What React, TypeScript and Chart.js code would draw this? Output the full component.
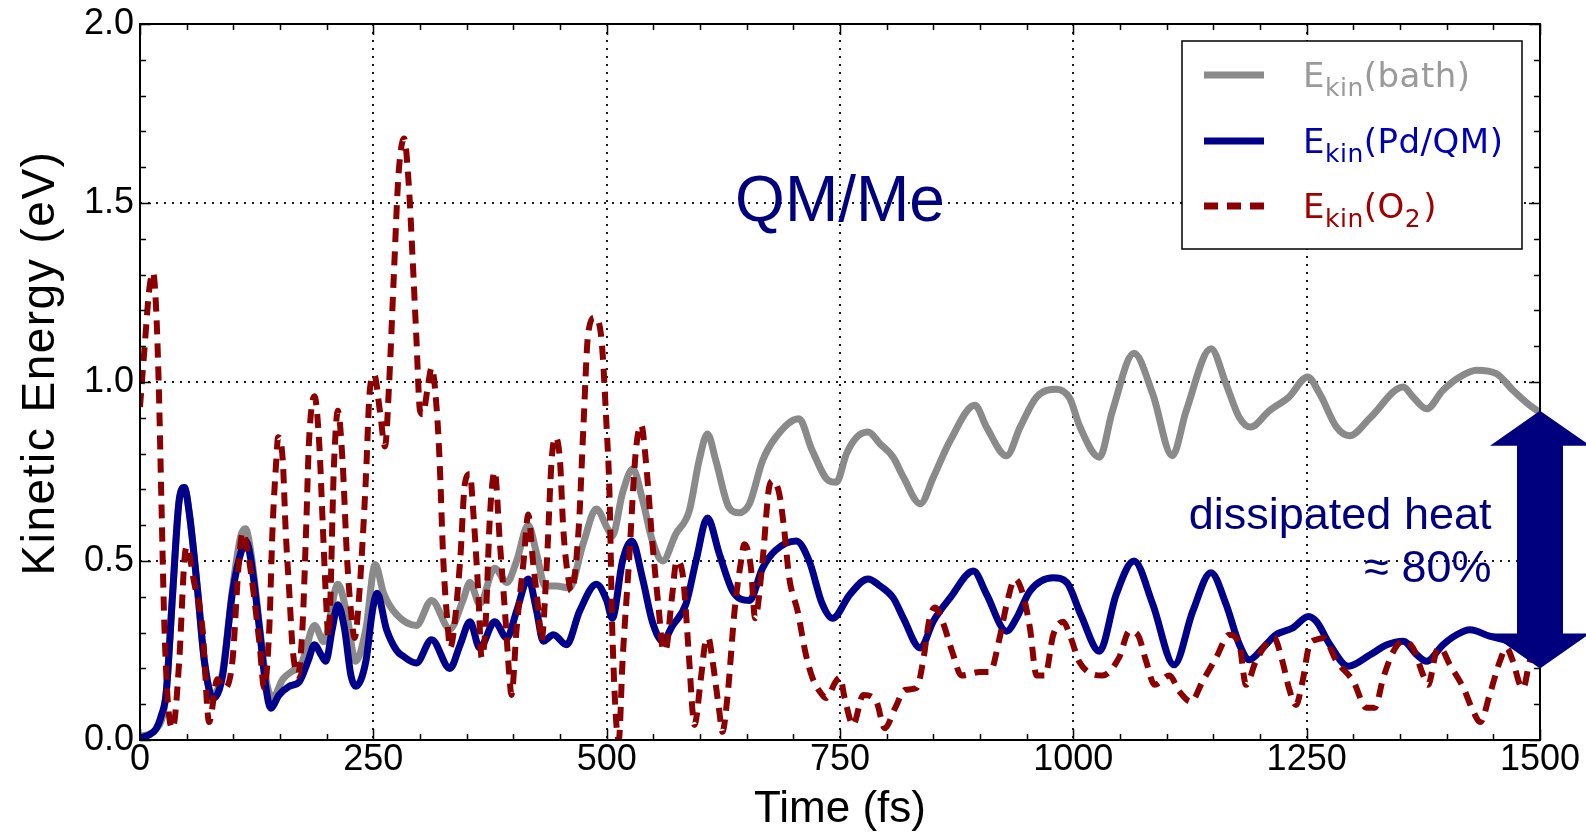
import React, { useEffect, useRef } from 'react';
import { Chart, registerables } from 'chart.js';

Chart.register(...registerables);

// ---- data (time in fs, kinetic energy in eV) ----
const bathT = [0, 17, 28, 35, 42, 47.5, 53, 62, 69, 78, 81, 88.5, 99, 108, 113, 119, 128, 135, 142, 153, 167, 174, 187, 197, 212, 221, 231, 242, 252, 261, 275, 296, 312.5, 332, 346, 353.5, 364, 380, 393, 403.5, 416, 425, 434, 446, 460, 475, 489, 501, 506, 517, 528, 538.5, 549, 560, 574, 588.5, 599, 608, 617, 631, 642, 653, 667, 681, 706, 720, 738, 746, 757, 768, 780, 793, 807, 818, 836, 850, 868, 894.6, 907, 928.5, 943, 960.6, 982, 996, 1007, 1028, 1042, 1065, 1085, 1106, 1121, 1147.5, 1163.5, 1178, 1190, 1210, 1231, 1251, 1264, 1282, 1296, 1318, 1353.5, 1364, 1378.5, 1396, 1414, 1432, 1453.5, 1471, 1489, 1500];
const bathE = [0.01, 0.03, 0.13, 0.41, 0.67, 0.705, 0.63, 0.41, 0.22, 0.125, 0.13, 0.19, 0.42, 0.57, 0.59, 0.52, 0.32, 0.17, 0.117, 0.17, 0.2, 0.22, 0.32, 0.275, 0.435, 0.36, 0.22, 0.31, 0.49, 0.41, 0.35, 0.32, 0.39, 0.31, 0.39, 0.44, 0.38, 0.48, 0.44, 0.5, 0.6, 0.52, 0.43, 0.43, 0.425, 0.55, 0.645, 0.59, 0.57, 0.69, 0.757, 0.67, 0.556, 0.5, 0.575, 0.64, 0.78, 0.855, 0.78, 0.65, 0.635, 0.66, 0.78, 0.845, 0.897, 0.81, 0.724, 0.72, 0.8, 0.846, 0.86, 0.827, 0.79, 0.734, 0.66, 0.734, 0.836, 0.935, 0.874, 0.794, 0.874, 0.958, 0.98, 0.955, 0.875, 0.79, 0.92, 1.08, 0.967, 0.794, 0.92, 1.093, 0.995, 0.9, 0.874, 0.92, 0.958, 1.014, 0.967, 0.874, 0.85, 0.9, 0.986, 0.958, 0.925, 0.977, 1.014, 1.033, 1.023, 0.977, 0.935, 0.915];

const pdT = [0, 10, 17, 23, 28, 35, 42, 47.5, 53, 62, 69, 78, 81, 88.5, 99, 110, 113.5, 119, 128, 135, 140, 149, 160, 171, 180, 187, 194, 199, 206, 212, 219, 226, 231, 242, 249, 254, 264, 275, 282, 296, 312.5, 332, 343, 353.5, 364, 380, 393, 403.5, 416, 425, 432, 443, 457, 471, 489, 500, 506, 517, 527, 538.5, 549, 560, 570.7, 585, 595.7, 608, 620.7, 635, 653, 667, 681, 703, 717, 731, 742, 760.7, 780, 793, 807, 818, 836, 850, 868, 893, 907, 928.5, 939, 953.5, 978.5, 993, 1008, 1028, 1046, 1065, 1085, 1108, 1128, 1147.5, 1163.5, 1178, 1188.5, 1203, 1217, 1235, 1252, 1260.7, 1275, 1294.6, 1318, 1336, 1353.5, 1368, 1378.5, 1396, 1410.7, 1425, 1446, 1468, 1485, 1500];
const pdE = [0.005, 0.015, 0.03, 0.07, 0.13, 0.41, 0.67, 0.705, 0.63, 0.41, 0.22, 0.117, 0.12, 0.18, 0.41, 0.54, 0.556, 0.5, 0.31, 0.145, 0.089, 0.126, 0.15, 0.164, 0.22, 0.266, 0.238, 0.22, 0.31, 0.378, 0.313, 0.18, 0.15, 0.22, 0.36, 0.41, 0.31, 0.25, 0.234, 0.215, 0.28, 0.2, 0.266, 0.33, 0.257, 0.33, 0.285, 0.36, 0.45, 0.36, 0.276, 0.294, 0.266, 0.36, 0.435, 0.39, 0.34, 0.5, 0.556, 0.45, 0.33, 0.276, 0.32, 0.38, 0.5, 0.62, 0.52, 0.416, 0.39, 0.48, 0.53, 0.556, 0.5, 0.38, 0.34, 0.407, 0.45, 0.43, 0.397, 0.34, 0.257, 0.332, 0.397, 0.472, 0.407, 0.304, 0.34, 0.416, 0.453, 0.44, 0.35, 0.248, 0.407, 0.5, 0.38, 0.21, 0.36, 0.467, 0.38, 0.266, 0.224, 0.257, 0.294, 0.313, 0.345, 0.33, 0.266, 0.206, 0.238, 0.266, 0.276, 0.238, 0.22, 0.266, 0.294, 0.308, 0.29, 0.276, 0.26, 0.22];

const o2T = [0, 5, 10, 14, 17, 20, 23, 26, 30, 35, 42, 47.5, 50, 58, 67, 74, 83, 90, 99, 106, 110, 117, 128, 133, 138.5, 142, 146, 148, 153, 156, 160, 163.5, 169, 174, 178, 181, 187, 192, 196, 199, 202, 208, 212, 217, 222, 228, 230, 235, 242, 246, 251, 257, 262.5, 267, 272, 277, 283, 288, 292, 296, 300, 303, 308, 312.5, 318, 321, 325, 330, 332, 343, 348, 353.5, 357, 362.5, 366, 370, 375, 380, 385.6, 391, 396, 398, 403.5, 411, 416, 421, 427, 430, 436, 441, 445, 450, 453.5, 459, 462, 470, 475, 480, 487, 494, 500, 503, 506, 513, 517, 524, 531, 537, 542, 549, 556, 560, 563, 570, 575, 581, 588.5, 592, 594, 601, 606, 609, 613.5, 620.7, 624, 629.6, 637, 644, 647.5, 654.6, 659, 667, 674, 678, 685, 690, 695.6, 704.6, 713.5, 720.6, 731, 735, 745.6, 750, 755, 764, 775, 789, 798, 809, 819.6, 832, 839, 846, 852, 860, 871, 880, 900, 910.7, 921, 928.5, 937.5, 946, 953.5, 960.6, 969.6, 978.5, 989, 998, 1006, 1031, 1049, 1060, 1069, 1078, 1087, 1103, 1113.5, 1126, 1138.5, 1153, 1167, 1178, 1185, 1195.6, 1215, 1224, 1231, 1238.5, 1245.6, 1253, 1260, 1268, 1282, 1300, 1314, 1323, 1332, 1343, 1353.5, 1364, 1375, 1380, 1389, 1393, 1403.5, 1418, 1428.5, 1436, 1446, 1457, 1464, 1471, 1478.5, 1482, 1489, 1500];
const o2E = [0.93, 1.1, 1.26, 1.306, 1.22, 1.0, 0.66, 0.33, 0.1, 0.033, 0.22, 0.5, 0.54, 0.44, 0.31, 0.05, 0.17, 0.145, 0.22, 0.5, 0.58, 0.5, 0.27, 0.145, 0.31, 0.59, 0.78, 0.846, 0.78, 0.59, 0.41, 0.257, 0.18, 0.31, 0.59, 0.83, 0.96, 0.83, 0.59, 0.41, 0.29, 0.78, 0.92, 0.78, 0.5, 0.31, 0.285, 0.41, 0.73, 0.97, 1.02, 0.92, 0.82, 1.0, 1.3, 1.58, 1.68, 1.55, 1.35, 1.13, 0.92, 0.91, 0.98, 1.04, 0.92, 0.78, 0.5, 0.31, 0.257, 0.5, 0.715, 0.743, 0.64, 0.41, 0.23, 0.31, 0.63, 0.75, 0.55, 0.36, 0.17, 0.126, 0.31, 0.5, 0.63, 0.5, 0.36, 0.276, 0.5, 0.78, 0.846, 0.78, 0.59, 0.45, 0.416, 0.59, 0.87, 1.13, 1.18, 1.13, 0.87, 0.69, 0.31, 0.0, 0.22, 0.5, 0.8, 0.88, 0.78, 0.55, 0.36, 0.257, 0.25, 0.4, 0.5, 0.47, 0.22, 0.08, 0.042, 0.173, 0.276, 0.285, 0.22, 0.08, 0.023, 0.126, 0.36, 0.5, 0.547, 0.48, 0.34, 0.5, 0.705, 0.724, 0.687, 0.593, 0.453, 0.36, 0.238, 0.173, 0.126, 0.117, 0.164, 0.175, 0.117, 0.042, 0.126, 0.107, 0.033, 0.089, 0.14, 0.145, 0.22, 0.34, 0.37, 0.33, 0.24, 0.18, 0.19, 0.19, 0.285, 0.378, 0.45, 0.407, 0.313, 0.18, 0.18, 0.294, 0.33, 0.28, 0.22, 0.18, 0.23, 0.304, 0.294, 0.22, 0.154, 0.18, 0.136, 0.107, 0.164, 0.23, 0.294, 0.266, 0.154, 0.22, 0.285, 0.22, 0.145, 0.098, 0.164, 0.266, 0.28, 0.285, 0.22, 0.164, 0.09, 0.09, 0.173, 0.248, 0.276, 0.257, 0.18, 0.154, 0.248, 0.257, 0.21, 0.145, 0.08, 0.05, 0.126, 0.22, 0.257, 0.22, 0.154, 0.145, 0.22, 0.26];

const xTicks = [0, 250, 500, 750, 1000, 1250, 1500];
const yTicks = [0, 0.5, 1.0, 1.5, 2.0];

const xTitle = 'Time (fs)';
const yTitle = 'Kinetic Energy (eV)';

const legendItems = [
  { main: 'E', sub: 'kin', rest: ['(bath)'] },
  { main: 'E', sub: 'kin', rest: ['(Pd/QM)'] },
  { main: 'E', sub: 'kin', rest: ['(O', '2', ')'] },
];

const annoTitle = 'QM/Me';
const annoHeat1 = 'dissipated heat';
const annoHeat2 = '\u2248 80%';
// arrow spans from bath energy down to the QM energy at the end of the run
const arrowT = 1500;
const arrowTop = 0.92;
const arrowBottom = 0.2;

const GRAY = '#8a8a8a';
const BLUE = '#00008b';
const RED = '#8b0000';
const NAVY = '#00007f';
const SANS = '"Liberation Sans", Arial, sans-serif';
const LEG_FONT = '"DejaVu Sans", sans-serif';

const overlay = {
  id: 'overlay',
  afterDatasetsDraw(chart: any) {
    const { ctx, chartArea, scales } = chart;
    const { left, right, top, bottom } = chartArea;
    const xs = scales.x;
    const ys = scales.y;
    ctx.save();
    // minor/major inward ticks on all four sides
    ctx.strokeStyle = '#000';
    ctx.lineWidth = 1.5;
    ctx.beginPath();
    for (let v = 0; v <= 1500; v += 50) {
      const px = Math.round(xs.getPixelForValue(v)) + 0.5;
      const len = v % 250 === 0 ? 11 : 6;
      ctx.moveTo(px, bottom); ctx.lineTo(px, bottom - len);
      ctx.moveTo(px, top); ctx.lineTo(px, top + len);
    }
    for (let i = 0; i <= 20; i++) {
      const py = Math.round(ys.getPixelForValue(i / 10)) + 0.5;
      const len = i % 5 === 0 ? 11 : 6;
      ctx.moveTo(left, py); ctx.lineTo(left + len, py);
      ctx.moveTo(right, py); ctx.lineTo(right - len, py);
    }
    ctx.stroke();
    // frame
    ctx.lineWidth = 2;
    ctx.strokeRect(left, top, right - left, bottom - top);

    // axis titles
    ctx.fillStyle = '#000';
    ctx.textBaseline = 'middle';
    ctx.textAlign = 'center';
    ctx.font = `44px ${SANS}`;
    ctx.fillText(xTitle, (left + right) / 2, 810);
    ctx.save();
    ctx.translate(41, 363);
    ctx.rotate(-Math.PI / 2);
    ctx.font = `46px ${SANS}`;
    (ctx as any).letterSpacing = '1.5px';
    ctx.fillText(yTitle, 0, 0);
    ctx.restore();

    // annotations
    ctx.fillStyle = NAVY;
    ctx.textBaseline = 'middle';
    ctx.textAlign = 'center';
    ctx.font = `64px ${SANS}`;
    ctx.fillText(annoTitle, xs.getPixelForValue(750), ys.getPixelForValue(1.5));
    ctx.textAlign = 'right';
    ctx.font = `45px ${SANS}`;
    ctx.fillText(annoHeat1, xs.getPixelForValue(1448), ys.getPixelForValue(0.624));
    ctx.fillText(annoHeat2, xs.getPixelForValue(1448), ys.getPixelForValue(0.476));
    ctx.restore();
  },
  afterDraw(chart: any) {
    const { ctx, scales } = chart;
    ctx.save();
    // legend box
    const bx = 1182, by = 41, bw = 340, bh = 208;
    ctx.fillStyle = '#fff';
    ctx.fillRect(bx, by, bw, bh);
    ctx.strokeStyle = '#000';
    ctx.lineWidth = 1.5;
    ctx.strokeRect(bx, by, bw, bh);
    const rowsY = [75, 141, 206];
    const lineCols = [GRAY, BLUE, RED];
    const textCols = ['#9a9a9a', '#0000b4', '#a00000'];
    (ctx as any).letterSpacing = '0.5px';
    legendItems.forEach((it, i) => {
      const y = rowsY[i];
      ctx.strokeStyle = lineCols[i];
      ctx.lineWidth = 7;
      ctx.lineCap = 'butt';
      if (i === 2) ctx.setLineDash([14, 9]); else ctx.setLineDash([]);
      ctx.beginPath();
      ctx.moveTo(1204, y);
      ctx.lineTo(1264, y);
      ctx.stroke();
      ctx.setLineDash([]);
      ctx.fillStyle = textCols[i];
      ctx.textBaseline = 'alphabetic';
      ctx.textAlign = 'left';
      const base = y + 12;
      let x = 1303;
      ctx.font = `34px ${LEG_FONT}`;
      ctx.fillText(it.main, x, base);
      x += ctx.measureText(it.main).width;
      ctx.font = `25px ${LEG_FONT}`;
      ctx.fillText(it.sub, x, base + 9);
      x += ctx.measureText(it.sub).width;
      it.rest.forEach((seg, k) => {
        const isSub = it.rest.length === 3 && k === 1;
        ctx.font = isSub ? `25px ${LEG_FONT}` : `34px ${LEG_FONT}`;
        ctx.fillText(seg, x, isSub ? base + 9 : base);
        x += ctx.measureText(seg).width + (isSub ? 2 : 0);
      });
    });
    (ctx as any).letterSpacing = '0px';

    // double-headed arrow
    const ax = scales.x.getPixelForValue(arrowT);
    const ay1 = scales.y.getPixelForValue(arrowTop);
    const ay2 = scales.y.getPixelForValue(arrowBottom);
    const hw = 50, sw = 23, hl = 35;
    ctx.fillStyle = NAVY;
    ctx.beginPath();
    ctx.moveTo(ax, ay1);
    ctx.lineTo(ax + hw, ay1 + hl);
    ctx.lineTo(ax + sw, ay1 + hl);
    ctx.lineTo(ax + sw, ay2 - hl);
    ctx.lineTo(ax + hw, ay2 - hl);
    ctx.lineTo(ax, ay2);
    ctx.lineTo(ax - hw, ay2 - hl);
    ctx.lineTo(ax - sw, ay2 - hl);
    ctx.lineTo(ax - sw, ay1 + hl);
    ctx.lineTo(ax - hw, ay1 + hl);
    ctx.closePath();
    ctx.fill();
    ctx.restore();
  },
};

const toXY = (t: number[], e: number[]) => t.map((x, i) => ({ x, y: e[i] }));

export default function App() {
  const ref = useRef<HTMLCanvasElement>(null);
  useEffect(() => {
    if (!ref.current) return;
    const gridColor = (edgeA: number, edgeB: number) => (c: any) =>
      c.tick && (c.tick.value === edgeA || c.tick.value === edgeB) ? 'rgba(0,0,0,0)' : '#1a1a1a';
    const chart = new Chart(ref.current, {
      type: 'line',
      data: {
        datasets: [
          {
            label: 'Ekin(bath)', data: toXY(bathT, bathE), borderColor: GRAY, borderWidth: 7,
            pointRadius: 0, cubicInterpolationMode: 'monotone', order: 3, fill: false,
          },
          {
            label: 'Ekin(Pd/QM)', data: toXY(pdT, pdE), borderColor: BLUE, borderWidth: 7,
            pointRadius: 0, cubicInterpolationMode: 'monotone', order: 2, fill: false,
          },
          {
            label: 'Ekin(O2)', data: toXY(o2T, o2E), borderColor: RED, borderWidth: 6,
            borderDash: [14, 9], borderCapStyle: 'butt',
            pointRadius: 0, cubicInterpolationMode: 'monotone', order: 1, fill: false,
          },
        ],
      } as any,
      options: {
        animation: false,
        responsive: false,
        events: [],
        layout: { padding: { left: 0, top: 22, right: 46, bottom: 0 } },
        plugins: { legend: { display: false }, tooltip: { enabled: false }, title: { display: false } },
        scales: {
          x: {
            type: 'linear', min: 0, max: 1500,
            afterBuildTicks: (s: any) => { s.ticks = xTicks.map((v) => ({ value: v })); },
            afterFit: (s: any) => { s.height = 100; },
            ticks: {
              color: '#000', font: { family: SANS, size: 36, lineHeight: 1 }, padding: 2,
              maxRotation: 0, autoSkip: false, callback: (v: any) => String(v),
            },
            grid: { color: gridColor(0, 1500), lineWidth: 2, drawTicks: false },
            border: { display: false, dash: [2, 6] },
            title: { display: false },
          },
          y: {
            type: 'linear', min: 0, max: 2,
            afterBuildTicks: (s: any) => { s.ticks = yTicks.map((v) => ({ value: v })); },
            afterFit: (s: any) => { s.width = 140; },
            ticks: {
              color: '#000', font: { family: SANS, size: 36, lineHeight: 1 }, padding: 6,
              callback: (v: any) => Number(v).toFixed(1),
            },
            grid: { color: gridColor(0, 2), lineWidth: 2, drawTicks: false },
            border: { display: false, dash: [2, 6] },
            title: { display: false },
          },
        },
      } as any,
      plugins: [overlay],
    });
    return () => chart.destroy();
  }, []);
  return (
    <div style={{ position: 'fixed', left: 0, top: 0, width: 1586, height: 840, background: '#fff' }}>
      <canvas ref={ref} width={1586} height={840} style={{ width: 1586, height: 840, display: 'block' }} />
    </div>
  );
}
